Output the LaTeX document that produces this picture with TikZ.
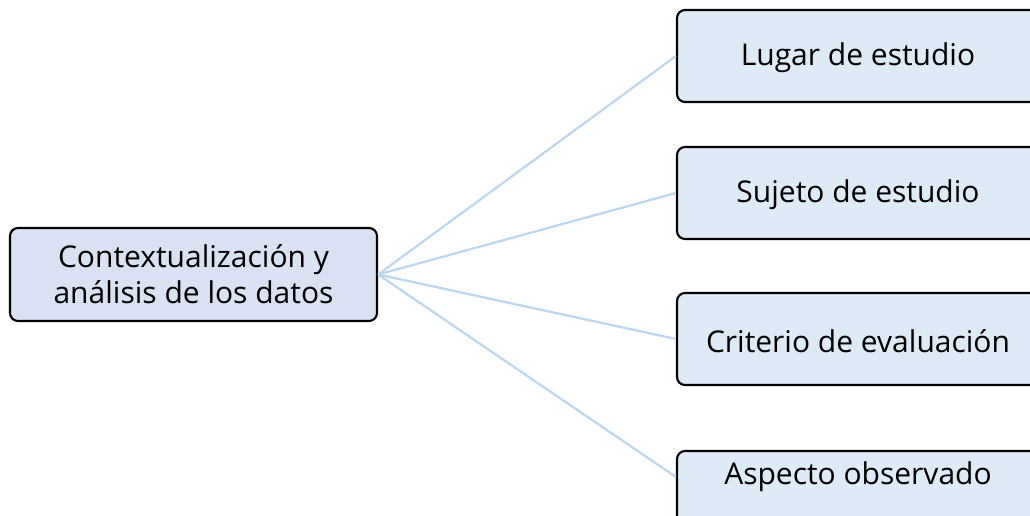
\documentclass[tikz,border=0pt]{standalone}
\usepackage{fontspec}
\setmainfont{Open Sans}
\definecolor{mainfill}{RGB}{217, 225, 242}
\definecolor{leaffill}{RGB}{222, 234, 246}
\definecolor{linkblue}{RGB}{189, 215, 238}
\usetikzlibrary{
  calc,
  positioning,
}
\tikzset{
  topic/.style={draw=black,line width=1.6pt,rectangle,rounded corners=6pt,fill=mainfill,align=center,font=\fontsize{22.5}{27}\selectfont},
  leaf/.style={draw=black,line width=1.6pt,rectangle,rounded corners=6pt,fill=leaffill,minimum width=362*0.75pt,minimum height=92*0.75pt},
  leaftext/.style={font=\fontsize{22.5}{27}\selectfont},
  link/.style={draw=linkblue,line width=1.7pt},
}

\begin{document}
\begin{tikzpicture}[x=0.75pt,y=-0.75pt]

        \useasboundingbox (0,0) rectangle (1030,516);
        \clip (0,0) rectangle (1030,516);

        \node[topic,minimum width=367*0.75pt,minimum height=93*0.75pt]    (main)    at (193.5,274.5)   {Contextualización y\\análisis de los datos};

        \node[leaf]    (l1)    at (858,56)    {};
        \node[leaf]    (l2)    at (858,193)   {};
        \node[leaf]    (l3)    at (858,339)   {};
        \node[leaf]    (l4)    at (858,497)   {};

        \node[leaftext]    (t1)    at (858,58)    {Lugar de estudio};
        \node[leaftext]    (t2)    at (858,195)   {Sujeto de estudio};
        \node[leaftext]    (t3)    at (858,341)   {Criterio de evaluación};
        \node[leaftext]    (t4)    at (858,477)   {Aspecto observado};
        \coordinate    (e4)    at (l4.west |- t4);

        \draw[link] (main.east) -- (l1.west);
        \draw[link] (main.east) -- (l2.west);
        \draw[link] (main.east) -- (l3.west);
        \draw[link] (main.east) -- (e4);

\end{tikzpicture}
\end{document}
